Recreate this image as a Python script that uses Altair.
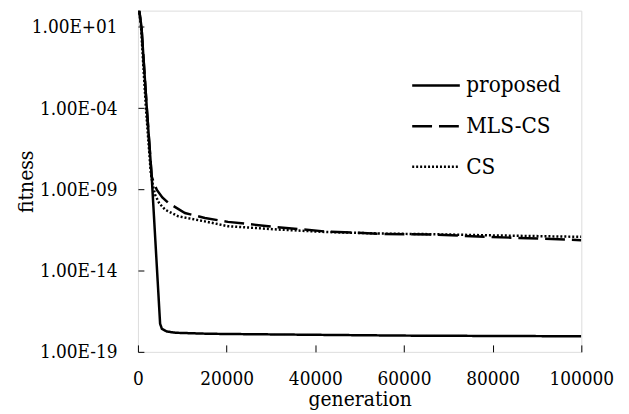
import altair as alt
import pandas as pd

series_names = ["proposed", "MLS-CS", "CS"]

proposed_gen = [0, 300, 800, 1300, 2000, 3100, 5000, 5400, 6500, 8400, 15800, 20000, 40000, 60000, 80000, 100000]
proposed_fit = [4.0e2, 1e2, 1e1, 7.9e-2, 1e-4, 6.3e-9, 5.4e-18, 2.6e-18, 1.8e-18, 1.5e-18, 1.3e-18, 1.26e-18, 1.12e-18, 1.0e-18, 9.5e-19, 9.1e-19]

mls_gen = [0, 300, 800, 1300, 2000, 3100, 3600, 4270, 5500, 6870, 10600, 15100, 20300, 31500, 42000, 55400, 66600, 78500, 91900, 100000]
mls_fit = [4.0e2, 1e2, 1e1, 7.9e-2, 1e-4, 6.3e-9, 2.5e-9, 9.3e-10, 3.2e-10, 1.45e-10, 3.5e-11, 1.74e-11, 1.0e-11, 4.7e-12, 2.6e-12, 1.8e-12, 1.66e-12, 1.2e-12, 9.1e-13, 7.4e-13]

cs_gen = [0, 250, 700, 1150, 1800, 2900, 3400, 3870, 4800, 6130, 9110, 15100, 20300, 31500, 42000, 55000, 66600, 78500, 91900, 100000]
cs_fit = [4.0e2, 1e2, 1e1, 7.9e-2, 1e-4, 1e-8, 1.6e-9, 4.7e-10, 1.4e-10, 5.6e-11, 2.2e-11, 1.07e-11, 5.4e-12, 3.4e-12, 2.4e-12, 1.9e-12, 1.74e-12, 1.5e-12, 1.3e-12, 1.2e-12]

x_tick_values = [0, 20000, 40000, 60000, 80000, 100000]
y_tick_values = [1e1, 1e-4, 1e-9, 1e-14, 1e-19]

rows = []
for name, gens, fits in [("proposed", proposed_gen, proposed_fit),
                         ("MLS-CS", mls_gen, mls_fit),
                         ("CS", cs_gen, cs_fit)]:
    for g, f in zip(gens, fits):
        rows.append({"series": name, "generation": g, "fitness": f})
df = pd.DataFrame(rows)

SERIF_C = "DejaVu Serif Condensed"
EXP = "round(log(datum.value)/LN10)"
label_expr = ("'1.00E' + (" + EXP + " >= 0 ? '+' : '-') + (abs(" + EXP + ") < 10 ? '0' : '') + abs(" + EXP + ")")

chart = alt.Chart(df).mark_line(clip=True, color="black", strokeWidth=2.5).encode(
    x=alt.X("generation:Q",
            scale=alt.Scale(domain=[0, 100000], nice=False),
            axis=alt.Axis(values=x_tick_values, format="d", title="generation", grid=False,
                          domain=False, tickSize=7, offset=-7, tickColor="black", tickWidth=1,
                          labelPadding=18, labelFlush=False, labelOverlap=False,
                          labelFont=SERIF_C, labelFontSize=19, labelColor="black",
                          titleFont=SERIF_C, titleFontSize=21, titleFontWeight="normal",
                          titleColor="black", titleY=60.7, titleBaseline="alphabetic")),
    y=alt.Y("fitness:Q",
            scale=alt.Scale(type="log", domain=[1e-19, 1e2], nice=False),
            axis=alt.Axis(values=y_tick_values, labelExpr=label_expr, title="fitness", grid=False,
                          domain=False, tickSize=6, offset=-6, tickColor="black", tickWidth=1,
                          labelPadding=21, labelFlush=False, labelOverlap=False,
                          labelFont=SERIF_C, labelFontSize=19, labelColor="black",
                          titleFont=SERIF_C, titleFontSize=21, titleFontWeight="normal",
                          titleColor="black", titleX=-112, titleBaseline="alphabetic",
                          titleAngle=270)),
    strokeDash=alt.StrokeDash("series:N",
                              scale=alt.Scale(domain=series_names, range=[[1, 0], [20, 7], [2, 2]]),
                              legend=alt.Legend(title=None, orient="none", legendX=275, legendY=50,
                                                symbolType="stroke", symbolSize=2304,
                                                symbolStrokeWidth=2.5, symbolStrokeColor="black",
                                                labelFont=SERIF_C, labelFontSize=22.5, labelColor="black",
                                                labelOffset=5, rowPadding=4, padding=0)),
).properties(
    width=447, height=344,
    autosize=alt.AutoSizeParams(type="none"),
    padding={"left": 131, "top": 1, "right": 40, "bottom": 62},
).configure_view(stroke="black", strokeWidth=1).configure(background="white")

chart.save("out.html", embed_options={"renderer": "svg", "actions": False})
